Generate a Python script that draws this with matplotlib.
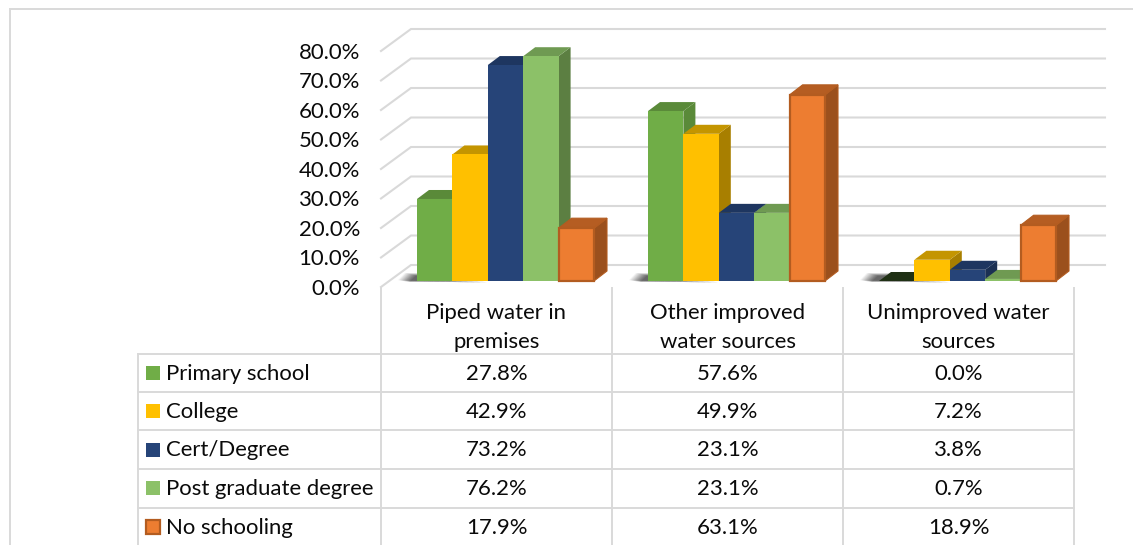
import matplotlib
matplotlib.use("Agg")
from matplotlib import pyplot as plt
from matplotlib.patches import Polygon, Rectangle

categories = ["Piped water in\npremises", "Other improved\nwater sources", "Unimproved water\nsources"]
series = ["Primary school", "College", "Cert/Degree", "Post graduate degree", "No schooling"]
primary = [27.8, 57.6, 0.0]
college = [42.9, 49.9, 7.2]
cert = [73.2, 23.1, 3.8]
postgrad = [76.2, 23.1, 0.7]
none = [17.9, 63.1, 18.9]
yticks = [0, 10, 20, 30, 40, 50, 60, 70, 80]

front_cols = ["#70AD47", "#FFC000", "#264478", "#8CC168", "#ED7D31"]
top_cols = ["#5A8A39", "#C49500", "#1E3660", "#6F9A52", "#B55D22"]
side_cols = ["#5A8A39", "#A87F00", "#1B3053", "#5C7F42", "#9B501D"]
zero_top = "#1F3014"
grid_col = "#D9D9D9"
txt_size = 15.9
txt_col = '#0A0A0A'

W, H = 1133, 545
x0, cat_w = 381, 231.0      # left of the value area, width of one category
y0, px_per = 281, 2.95      # bar baseline, pixels per percentage point
bar_w = 35.4 / cat_w
group_off = 36 / cat_w
dep_x, dep_y = 12 / cat_w, 9 / px_per

plt.rcParams['font.family'] = ['Lato', 'DejaVu Sans']
fig = plt.figure(figsize=(W / 100, H / 100), dpi=100)

# pixel axes for the frame and the data table
ov = fig.add_axes([0, 0, 1, 1])
ov.set_xlim(0, W)
ov.set_ylim(H, 0)
ov.axis('off')

# value axes: x in categories, y in percent
ax = fig.add_axes([0, 0, 1, 1])
ax.set_xlim(-x0 / cat_w, (W - x0) / cat_w)
ax.set_ylim((y0 - H) / px_per, y0 / px_per)
ax.axis('off')
ax.patch.set_alpha(0)

# frame
ov.plot([10, 10, W], [H, 8.5, 8.5], color=grid_col, lw=1.4, solid_joinstyle='miter')

# back wall, left wall
back = 30 / cat_w
back_up, front_dn = 16 / px_per, 6 / px_per
right = (1105 - x0) / cat_w
for v in yticks:
    ax.plot([0, back, right], [v - front_dn, v + back_up, v + back_up], color=grid_col, lw=1.5, zorder=1,
            solid_joinstyle='miter')
    ax.text(-21 / cat_w, v - front_dn - 0.6, "%.1f%%" % v, ha='right', va='center', fontsize=txt_size, color=txt_col)

# floor shadow left of each group
for i in range(3):
    sx = i + group_off
    for k in range(10):
        g = k / 10.0
        ax.add_patch(Polygon([(sx - (19 - 12 * g) / cat_w, (-1 - 2 * g) / px_per + 0.6),
                              (sx - (12 - 12 * g) / cat_w, (8 - 3 * g) / px_per),
                              (sx + (45 - 36 * g) / cat_w, (8 - 3 * g) / px_per),
                              (sx + (70 - 60 * g) / cat_w, (-2 + 2 * g) / px_per)],
                             closed=True, fc='black', ec='none', alpha=0.06 + 0.05 * g, zorder=2))

# bars, left to right so each front covers the side of the one before
all_vals = [primary, college, cert, postgrad, none]
for s, vals in enumerate(all_vals):
    for i, v in enumerate(vals):
        left = i + group_off + s * bar_w
        dx, dy = dep_x, dep_y
        edge = None
        if s == 4:
            dx, dy = 13 / cat_w, 10 / px_per
            edge = '#B35C20'
        z = 3 + s
        ax.add_patch(Polygon([(left + bar_w, 0), (left + bar_w + dx, dy), (left + bar_w + dx, v + dy), (left + bar_w, v)],
                             closed=True, fc=side_cols[s], ec=edge or 'none', lw=0.8, zorder=z))
        top = zero_top if v == 0 else top_cols[s]
        ax.add_patch(Polygon([(left, v), (left + dx, v + dy), (left + bar_w + dx, v + dy), (left + bar_w, v)],
                             closed=True, fc=top, ec=edge or 'none', lw=0.8, zorder=z))
        if v > 0:
            ax.bar(left, v, width=bar_w, align='edge', color=front_cols[s], edgecolor=edge or 'none',
                   linewidth=1.6 if edge else 0, zorder=z + 0.5)

# data table
col_x = [381, 612, 843, 1074]
row_y = [354, 392, 430, 469, 507.5]
for x in col_x:
    ov.plot([x, x], [288, H], color=grid_col, lw=1.4, zorder=1)
ov.plot([138, 138], [row_y[0], H], color=grid_col, lw=1.4, zorder=1)
for y in row_y:
    ov.plot([138, 1074], [y, y], color=grid_col, lw=1.4, zorder=1)

for i, name in enumerate(categories):
    cx = (col_x[i] + col_x[i + 1]) / 2
    for j, line in enumerate(name.split("\n")):
        ov.text(cx, 313 + j * 28.5, line, ha='center', va='center', fontsize=txt_size, color=txt_col)

for s, name in enumerate(series):
    cy = (row_y[s] + (row_y[s + 1] if s < 4 else 546)) / 2
    ov.add_patch(Rectangle((146, cy - 7), 14, 14, fc=front_cols[s],
                           ec='#B35C20' if s == 4 else 'none', lw=1.6 if s == 4 else 0))
    ov.text(166, cy + 1, name, ha='left', va='center', fontsize=txt_size, color=txt_col)
    for i, v in enumerate(all_vals[s]):
        cx = (col_x[i] + col_x[i + 1]) / 2
        ov.text(cx, cy + 1, "%.1f%%" % v, ha='center', va='center', fontsize=txt_size, color=txt_col)

fig.savefig('out.png', dpi=100)
plt.close()
